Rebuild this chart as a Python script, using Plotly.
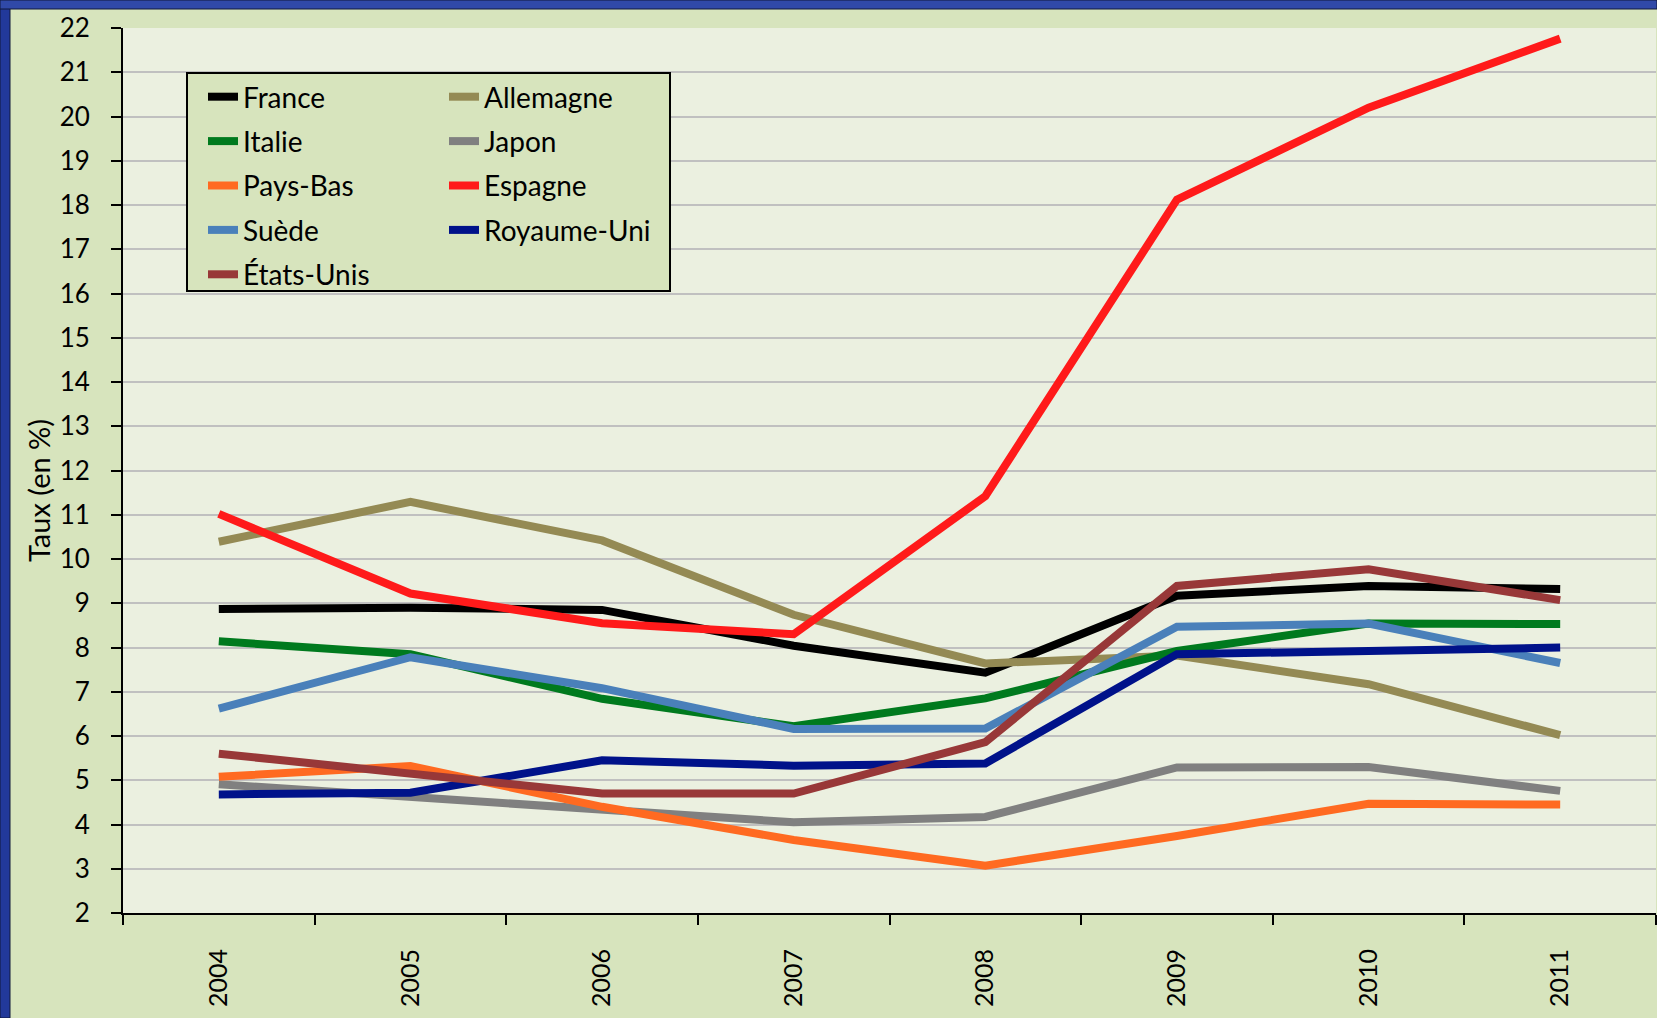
import plotly.graph_objects as go

# years on the x axis
annees = ["2004", "2005", "2006", "2007", "2008", "2009", "2010", "2011"]

# taux de chomage (en %)
france = [8.87, 8.9, 8.85, 8.04, 7.43, 9.17, 9.39, 9.32]
allemagne = [10.39, 11.29, 10.42, 8.74, 7.64, 7.82, 7.17, 6.02]
italie = [8.14, 7.85, 6.84, 6.22, 6.85, 7.92, 8.54, 8.53]
japon = [4.91, 4.62, 4.3, 4.05, 4.17, 5.29, 5.3, 4.76]
pays_bas = [5.08, 5.32, 4.4, 3.65, 3.07, 3.74, 4.47, 4.45]
espagne = [11.02, 9.22, 8.55, 8.3, 11.42, 18.12, 20.2, 21.76]
suede = [6.62, 7.78, 7.08, 6.16, 6.17, 8.47, 8.54, 7.65]
royaume_uni = [4.68, 4.72, 5.45, 5.33, 5.38, 7.85, 7.92, 8.0]
etats_unis = [5.6, 5.14, 4.7, 4.7, 5.86, 9.39, 9.77, 9.07]

series = [
    ("France", france, "#000000", "legend"),
    ("Allemagne", allemagne, "#948A54", "legend2"),
    ("Italie", italie, "#007A1E", "legend"),
    ("Japon", japon, "#808080", "legend2"),
    ("Pays-Bas", pays_bas, "#FF6A21", "legend"),
    ("Espagne", espagne, "#FF1A1A", "legend2"),
    ("Suède", suede, "#4A80BA", "legend"),
    ("Royaume-Uni", royaume_uni, "#00128A", "legend2"),
    ("États-Unis", etats_unis, "#983838", "legend"),
]

W, H = 1657, 1018
ML, MR, MT, MB = 123, 1, 28, 105
PW, PH = W - ML - MR, H - MT - MB


def px_x(p):
    return (p - ML) / PW


def px_y(p):
    return (H - MB - p) / PH


FONT = "Lato, 'Open Sans', sans-serif"

fig = go.Figure()
for name, vals, color, leg in series:
    fig.add_trace(go.Scatter(
        x=annees, y=vals, name=name, mode="lines",
        line=dict(color=color, width=8),
        legend=leg, legendgroup=name,
    ))

legend_style = dict(
    bgcolor="rgba(0,0,0,0)", borderwidth=0,
    font=dict(family=FONT, size=28, color="black"),
    tracegroupgap=5, yanchor="top", xanchor="left",
)

fig.update_layout(
    width=W, height=H,
    margin=dict(l=ML, r=MR, t=MT, b=MB),
    paper_bgcolor="#D7E4BD",
    plot_bgcolor="#EBF0E0",
    showlegend=True,
    legend=dict(x=px_x(203), y=px_y(72), **legend_style),
    legend2=dict(x=px_x(444), y=px_y(72), **legend_style),
    font=dict(family=FONT, size=26, color="black"),
)

fig.update_xaxes(
    type="category", range=[-0.5, 7.5],
    tickson="boundaries", ticks="outside", ticklen=10, tickwidth=2, tickcolor="black",
    showline=True, linecolor="black", linewidth=2,
    showgrid=False, tickangle=-90, ticklabelstandoff=24,
    tickfont=dict(family=FONT, size=25, color="black"),
)
fig.update_yaxes(
    range=[2, 22], dtick=1, tick0=2,
    ticks="outside", ticklen=10, tickwidth=2, tickcolor="black",
    showline=True, linecolor="black", linewidth=2,
    gridcolor="#C0C0C0", gridwidth=2, zeroline=False,
    ticklabelstandoff=16,
    tickfont=dict(family=FONT, size=26, color="black"),
)

fig.add_annotation(
    text="Taux (en %)", xref="paper", yref="paper",
    x=px_x(38), y=px_y(491), xanchor="center", yanchor="middle",
    textangle=-90, showarrow=False,
    font=dict(family=FONT, size=29, color="black"),
)

# legend box
fig.add_shape(
    type="rect", xref="paper", yref="paper", layer="above",
    x0=px_x(187), x1=px_x(670), y0=px_y(291), y1=px_y(73),
    fillcolor="#D7E4BD", line=dict(color="black", width=2),
)

# blue frame on the left and top
fig.add_shape(
    type="rect", xref="paper", yref="paper", layer="below",
    x0=px_x(0), x1=px_x(10), y0=px_y(H), y1=px_y(0),
    fillcolor="#22399A", line=dict(color="#10183A", width=1),
)
fig.add_shape(
    type="rect", xref="paper", yref="paper", layer="below",
    x0=px_x(0), x1=px_x(W), y0=px_y(9), y1=px_y(0),
    fillcolor="#3049A8", line=dict(color="#10183A", width=1),
)

# page without the default body margin, so the figure fills the window
fig.write_html(
    "out.html",
    config={"displayModeBar": False},
    post_script="document.body.style.margin='0';document.body.style.overflow='hidden';",
)
